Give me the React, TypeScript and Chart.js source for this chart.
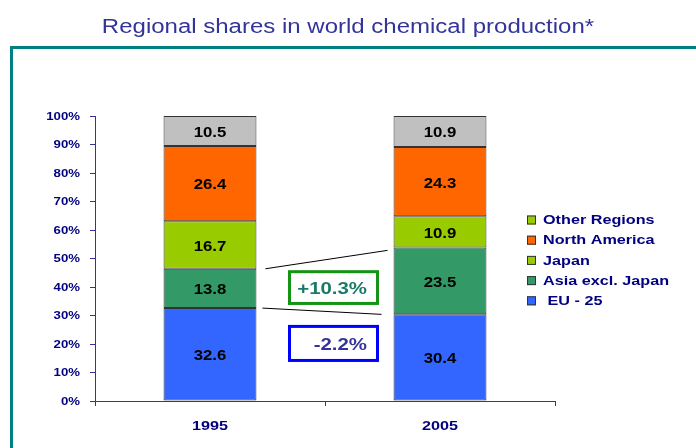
import React, { useEffect, useRef } from 'react';
import { Chart, registerables } from 'chart.js';

Chart.register(...registerables);

const titleText = 'Regional shares in world chemical production*';
const categories = ['1995', '2005'];
const seriesNames = [' EU - 25', 'Asia excl. Japan', 'Japan', 'North America', 'Other Regions'];
const eu25 = [32.6, 30.4];
const asiaExclJapan = [13.8, 23.5];
const japan = [16.7, 10.9];
const northAmerica = [26.4, 24.3];
const otherRegions = [10.5, 10.9];
const seriesValues = [eu25, asiaExclJapan, japan, northAmerica, otherRegions];
const barColors = ['#3366ff', '#339966', '#99cc00', '#ff6600', '#c0c0c0'];
const legendColors = ['#3366ff', '#339966', '#99cc00', '#ff6600', '#99cc00'];
const changeLabels = ['+10.3%', '-2.2%'];
const yMin = 0;
const yMax = 100;
const yStep = 10;

const FONT = '"Liberation Sans", Arial, Helvetica, sans-serif';
const STRETCH = 1.2;

function sText(ctx: CanvasRenderingContext2D, text: string, x: number, y: number, align: CanvasTextAlign) {
  ctx.save();
  ctx.translate(x, y);
  ctx.scale(STRETCH, 1);
  ctx.textAlign = align;
  ctx.fillText(text, 0, 0);
  ctx.restore();
}

const overlayPlugin = {
  id: 'overlay',
  afterDraw(chart: any) {
    const ctx: CanvasRenderingContext2D = chart.ctx;
    const xs = chart.scales.x;
    const ys = chart.scales.y;
    ctx.save();

    // frame
    ctx.fillStyle = '#008080';
    ctx.fillRect(10, 46, chart.width - 10, 3);
    ctx.fillRect(10, 46, 3, chart.height - 46);

    // title
    ctx.fillStyle = '#333399';
    ctx.font = `20px ${FONT}`;
    ctx.textBaseline = 'alphabetic';
    sText(ctx, titleText, chart.width / 2, 33, 'center');

    // y tick labels
    ctx.fillStyle = '#000080';
    ctx.font = `bold 11px ${FONT}`;
    ctx.textBaseline = 'middle';
    ys.ticks.forEach((t: any, i: number) => {
      sText(ctx, `${t.value}%`, ys.right - 15, ys.getPixelForTick(i) + 0.5, 'right');
    });

    // x tick labels
    ctx.font = `bold 13.5px ${FONT}`;
    categories.forEach((c, i) => {
      sText(ctx, c, xs.getPixelForValue(i), xs.top + 25, 'center');
    });

    // data labels
    ctx.fillStyle = '#000000';
    ctx.font = `bold 14px ${FONT}`;
    chart.data.datasets.forEach((ds: any, di: number) => {
      const meta = chart.getDatasetMeta(di);
      meta.data.forEach((el: any, i: number) => {
        const cy = (el.y + el.base) / 2;
        sText(ctx, ds.data[i].toFixed(1), el.x, cy + 2, 'center');
      });
    });

    // connector lines (top of EU and top of Asia)
    const bar0 = chart.getDatasetMeta(0).data[0];
    const bar1 = chart.getDatasetMeta(0).data[1];
    const x0 = bar0.x + bar0.width / 2;
    const x1 = bar1.x - bar1.width / 2;
    const cum = (si: number, ci: number) => {
      let s = 0;
      for (let k = 0; k <= si; k++) s += seriesValues[k][ci];
      return s;
    };
    ctx.strokeStyle = '#000000';
    ctx.lineWidth = 1;
    ctx.beginPath();
    ctx.moveTo(x0 + 9, ys.getPixelForValue(cum(1, 0)));
    ctx.lineTo(x1 - 6, ys.getPixelForValue(cum(1, 1)) + 3);
    ctx.moveTo(x0 + 6, ys.getPixelForValue(cum(0, 0)));
    ctx.lineTo(x1 - 12, ys.getPixelForValue(cum(0, 1)));
    ctx.stroke();

    // change boxes
    const midX = xs.getPixelForValue(0.5);
    const boxes = [
      { top: ys.getPixelForValue(45.9), bottom: ys.getPixelForValue(33.7), stroke: '#139413', color: '#1a7a6a' },
      { top: ys.getPixelForValue(26.7), bottom: ys.getPixelForValue(13.7), stroke: '#0000ff', color: '#333399' },
    ];
    boxes.forEach((b, i) => {
      const left = midX - 37;
      const right = midX + 54;
      ctx.fillStyle = '#ffffff';
      ctx.fillRect(left, b.top, right - left, b.bottom - b.top);
      ctx.strokeStyle = b.stroke;
      ctx.lineWidth = 3;
      ctx.strokeRect(left + 1.5, b.top + 1.5, right - left - 3, b.bottom - b.top - 3);
      ctx.fillStyle = b.color;
      ctx.font = `bold 17px ${FONT}`;
      ctx.textBaseline = 'middle';
      sText(ctx, changeLabels[i], right - 12, (b.top + b.bottom) / 2 + 1.5, 'right');
    });

    // legend
    ctx.font = `bold 13.5px ${FONT}`;
    ctx.textBaseline = 'middle';
    const order = [4, 3, 2, 1, 0];
    order.forEach((si, row) => {
      const cy = 220 + row * 20.2;
      ctx.fillStyle = legendColors[si];
      ctx.fillRect(527, cy - 4.5, 9, 9);
      ctx.strokeStyle = '#333333';
      ctx.lineWidth = 1;
      ctx.strokeRect(527.5, cy - 4, 8, 8);
      ctx.fillStyle = '#000080';
      sText(ctx, seriesNames[si], 543, cy + 0.5, 'left');
    });

    ctx.restore();
  },
};

export default function App() {
  const canvasRef = useRef<HTMLCanvasElement | null>(null);

  useEffect(() => {
    if (!canvasRef.current) return;
    const chart = new Chart(canvasRef.current, {
      type: 'bar',
      data: {
        labels: categories,
        datasets: seriesNames.map((name, i) => ({
          label: name,
          data: seriesValues[i],
          backgroundColor: barColors[i],
          borderColor: '#333333',
          borderWidth: 1,
          borderSkipped: false,
          barPercentage: 0.404,
          categoryPercentage: 1,
        })),
      },
      options: {
        responsive: false,
        animation: false,
        devicePixelRatio: 1,
        layout: { padding: { left: 0, right: 141, top: 116, bottom: 0 } },
        plugins: {
          legend: { display: false },
          title: { display: false },
          tooltip: { enabled: false },
        },
        scales: {
          x: {
            stacked: true,
            offset: true,
            grid: { display: true, drawOnChartArea: false, drawTicks: true, tickLength: 5, color: '#333399', offset: true },
            border: { display: true, color: '#333399', width: 1 },
            ticks: { display: false },
            afterFit: (s: any) => { s.height = 47; },
          },
          y: {
            stacked: true,
            min: yMin,
            max: yMax,
            grid: { display: true, drawOnChartArea: false, drawTicks: true, tickLength: 5, color: '#333399' },
            border: { display: true, color: '#333399', width: 1 },
            ticks: { display: false, stepSize: yStep },
            afterFit: (s: any) => { s.width = 95; },
          },
        },
      },
      plugins: [overlayPlugin],
    });
    return () => chart.destroy();
  }, []);

  return (
    <div style={{ position: 'absolute', left: 0, top: 0, width: 696, height: 448, background: '#ffffff' }}>
      <canvas ref={canvasRef} width={696} height={448} style={{ display: 'block', width: 696, height: 448 }} />
    </div>
  );
}
